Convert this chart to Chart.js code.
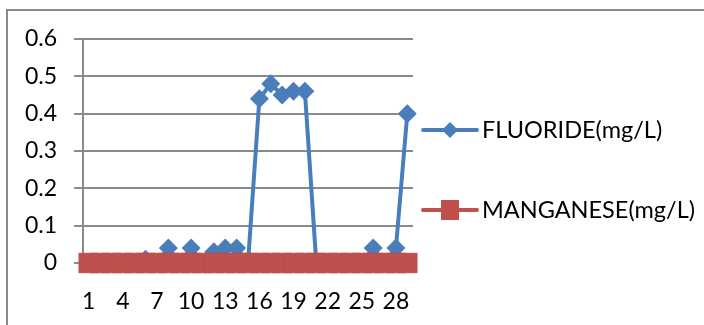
<!DOCTYPE html>
<html>
<head>
<meta charset="utf-8">
<script src="https://cdn.jsdelivr.net/npm/chart.js@4.4.1/dist/chart.umd.min.js"></script>
<style>
  html, body { margin: 0; padding: 0; background: #ffffff; }
  #wrap { width: 704px; height: 325px; position: relative; }
</style>
</head>
<body>
<div id="wrap"><canvas id="chart" width="704" height="325"></canvas></div>
<script>
// Sample numbers along the x axis
const categories = ['1','2','3','4','5','6','7','8','9','10','11','12','13','14','15',
                    '16','17','18','19','20','21','22','23','24','25','26','27','28','29'];

// Fluoride concentration per sample (mg/L)
const fluoride = [0, 0, 0, 0, 0, 0.01, 0, 0.04, 0, 0.04, 0, 0.03, 0.04, 0.04, 0,
                  0.44, 0.48, 0.45, 0.46, 0.46, 0, 0, 0, 0, 0, 0.04, 0, 0.04, 0.40];

// Manganese concentration per sample (mg/L)
const manganese = [0, 0, 0, 0, 0, 0, 0, 0, 0, 0, 0, 0, 0, 0, 0,
                   0, 0, 0, 0, 0, 0, 0, 0, 0, 0, 0, 0, 0, 0];

// Value axis ticks
const yTicks = [0, 0.1, 0.2, 0.3, 0.4, 0.5, 0.6];

const seriesNames = ['FLUORIDE(mg/L)', 'MANGANESE(mg/L)'];

const BLUE = '#4A7EBB';
const RED = '#C0504D';
const GRID = '#8a8a8a';
const FONT = 'Lato, "Open Sans", sans-serif';

// White background and the outer frame
const framePlugin = {
  id: 'frame',
  beforeDraw(chart) {
    const ctx = chart.ctx;
    ctx.save();
    ctx.fillStyle = '#ffffff';
    ctx.fillRect(0, 0, chart.width, chart.height);
    ctx.strokeStyle = GRID;
    ctx.lineWidth = 2;
    ctx.beginPath();
    ctx.moveTo(7, chart.height + 2);
    ctx.lineTo(7, 10);
    ctx.lineTo(chart.width + 2, 10);
    ctx.stroke();
    ctx.restore();
  }
};

// Legend on the right: a short line with the series marker, then the name
const sideLegend = {
  id: 'sideLegend',
  afterDraw(chart) {
    const ctx = chart.ctx;
    const x0 = 423, x1 = 477, cx = 450, tx = 482;
    const rows = [130, 210];
    ctx.save();
    chart.data.datasets.forEach((ds, i) => {
      const y = rows[i];
      ctx.strokeStyle = ds.borderColor;
      ctx.lineWidth = 4;
      ctx.lineCap = 'round';
      ctx.beginPath();
      ctx.moveTo(x0, y);
      ctx.lineTo(x1, y);
      ctx.stroke();
      ctx.fillStyle = ds.pointBackgroundColor;
      if (ds.pointStyle === 'rectRot') {
        ctx.beginPath();
        ctx.moveTo(cx - 8, y);
        ctx.lineTo(cx, y - 8);
        ctx.lineTo(cx + 8, y);
        ctx.lineTo(cx, y + 8);
        ctx.closePath();
        ctx.fill();
      } else {
        ctx.fillRect(cx - 9, y - 10, 18, 20);
      }
      ctx.fillStyle = '#000000';
      ctx.font = '23.5px ' + FONT;
      ctx.textBaseline = 'middle';
      ctx.textAlign = 'left';
      ctx.fillText(ds.label, tx, y);
    });
    ctx.restore();
  }
};

new Chart(document.getElementById('chart'), {
  type: 'line',
  data: {
    labels: categories,
    datasets: [
      {
        label: seriesNames[0],
        data: fluoride,
        borderColor: BLUE,
        backgroundColor: BLUE,
        pointBackgroundColor: BLUE,
        pointBorderColor: BLUE,
        borderWidth: 4,
        pointStyle: 'rectRot',
        pointRadius: 9.5,
        pointBorderWidth: 0,
        tension: 0,
        clip: false,
        order: 1
      },
      {
        label: seriesNames[1],
        data: manganese,
        borderColor: RED,
        backgroundColor: RED,
        pointBackgroundColor: RED,
        pointBorderColor: '#bb4c49',
        borderWidth: 4,
        pointStyle: 'rect',
        pointRadius: 14,
        pointBorderWidth: 0.5,
        tension: 0,
        clip: false,
        order: 0
      }
    ]
  },
  options: {
    responsive: false,
    animation: false,
    devicePixelRatio: 1,
    layout: { padding: { left: 0, top: 39, right: 291, bottom: 0 } },
    plugins: {
      legend: { display: false },
      tooltip: { enabled: false }
    },
    scales: {
      x: {
        type: 'category',
        offset: true,
        grid: { display: false },
        border: { display: true, color: GRID, width: 2 },
        ticks: {
          autoSkip: false,
          maxRotation: 0,
          padding: 17,
          color: '#000000',
          font: { family: FONT, size: 23 },
          callback(value, index) { return index % 3 === 0 ? categories[index] : ''; }
        },
        afterFit(scale) { scale.height = 62; }
      },
      y: {
        min: yTicks[0],
        max: yTicks[yTicks.length - 1],
        afterBuildTicks(scale) { scale.ticks = yTicks.map(v => ({ value: v })); },
        grid: { color: GRID, lineWidth: 2, tickLength: 9, drawTicks: true },
        border: { display: true, color: GRID, width: 2 },
        ticks: {
          padding: 17,
          color: '#000000',
          font: { family: FONT, size: 23 },
          callback(value) { return String(Math.round(value * 10) / 10); }
        },
        afterFit(scale) { scale.width = 83; }
      }
    }
  },
  plugins: [framePlugin, sideLegend]
});
</script>
</body>
</html>
